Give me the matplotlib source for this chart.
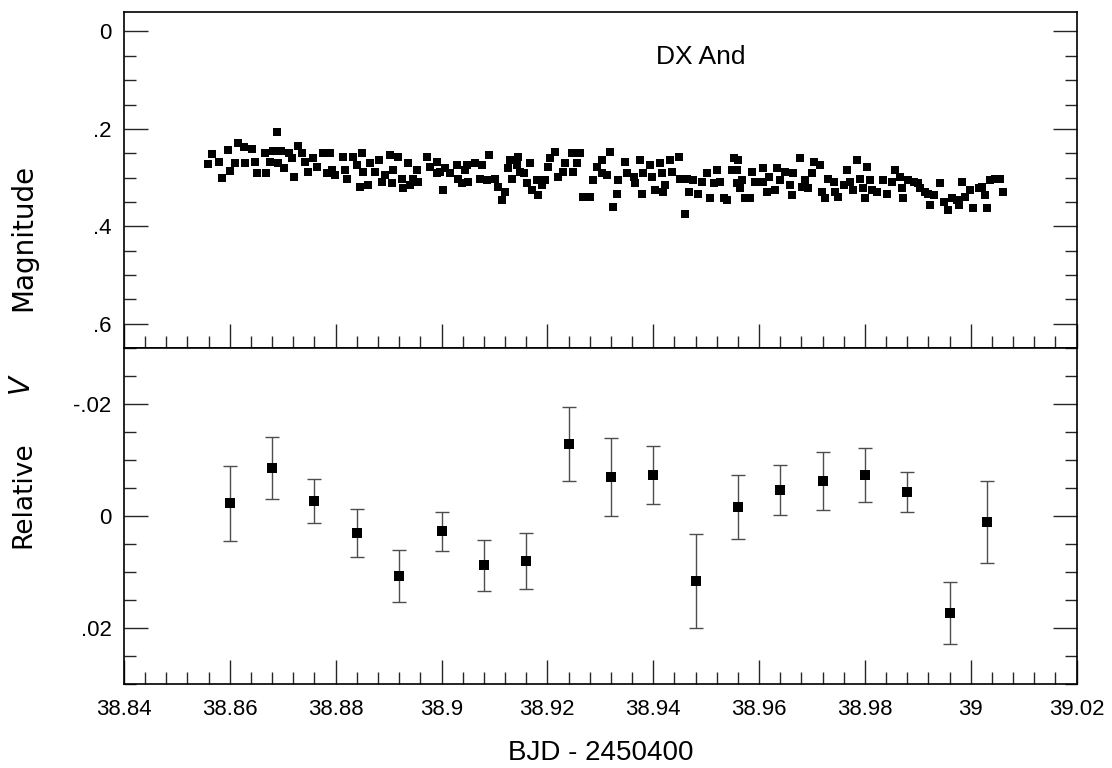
import matplotlib
matplotlib.use("Agg")
import matplotlib.pyplot as plt
from matplotlib.ticker import MultipleLocator, FuncFormatter

# Top panel: individual measurements (BJD - 2450400, magnitude)
t_all = [
    38.8558, 38.8567, 38.8580, 38.8585, 38.8597, 38.8600, 38.8616, 38.8610, 38.8627, 38.8629,
    38.8641, 38.8648, 38.8651, 38.8667, 38.8668, 38.8676, 38.8682, 38.8691, 38.8689, 38.8697,
    38.8703, 38.8711, 38.8717, 38.8722, 38.8728, 38.8736, 38.8742, 38.8748, 38.8758, 38.8764,
    38.8777, 38.8783, 38.8789, 38.8793, 38.8799, 38.8814, 38.8818, 38.8821, 38.8833, 38.8840,
    38.8849, 38.8846, 38.8852, 38.8862, 38.8865, 38.8874, 38.8881, 38.8887, 38.8893, 38.8903,
    38.8906, 38.8909, 38.8918, 38.8925, 38.8928, 38.8937, 38.8941, 38.8947, 38.8953, 38.8956,
    38.8972, 38.8978, 38.8991, 38.8991, 38.8997, 38.9003, 38.9007, 38.9016, 38.9029, 38.9032,
    38.9038, 38.9045, 38.9048, 38.9051, 38.9063, 38.9076, 38.9073, 38.9090, 38.9086, 38.9101,
    38.9107, 38.9114, 38.9120, 38.9130, 38.9126, 38.9133, 38.9142, 38.9145, 38.9148, 38.9155,
    38.9161, 38.9167, 38.9171, 38.9180, 38.9183, 38.9189, 38.9196, 38.9202, 38.9205, 38.9215,
    38.9221, 38.9230, 38.9233, 38.9246, 38.9249, 38.9256, 38.9262, 38.9268, 38.9281, 38.9287,
    38.9293, 38.9303, 38.9303, 38.9319, 38.9312, 38.9325, 38.9331, 38.9334, 38.9347, 38.9350,
    38.9363, 38.9366, 38.9375, 38.9378, 38.9381, 38.9394, 38.9397, 38.9404, 38.9413, 38.9416,
    38.9422, 38.9419, 38.9432, 38.9435, 38.9448, 38.9451, 38.9460, 38.9464, 38.9467, 38.9476,
    38.9485, 38.9492, 38.9501, 38.9508, 38.9514, 38.9520, 38.9526, 38.9533, 38.9539, 38.9549,
    38.9552, 38.9558, 38.9561, 38.9558, 38.9567, 38.9564, 38.9574, 38.9583, 38.9586, 38.9593,
    38.9608, 38.9608, 38.9615, 38.9618, 38.9630, 38.9634, 38.9640, 38.9649, 38.9659, 38.9662,
    38.9665, 38.9678, 38.9681, 38.9687, 38.9693, 38.9700, 38.9703, 38.9715, 38.9719, 38.9725,
    38.9731, 38.9741, 38.9744, 38.9750, 38.9760, 38.9766, 38.9772, 38.9778, 38.9785, 38.9791,
    38.9797, 38.9800, 38.9804, 38.9810, 38.9813, 38.9823, 38.9835, 38.9841, 38.9851, 38.9857,
    38.9867, 38.9870, 38.9873, 38.9882, 38.9892, 38.9901, 38.9904, 38.9914, 38.9920, 38.9923,
    38.9930, 38.9942, 38.9949, 38.9958, 38.9964, 38.9974, 38.9977, 38.9983, 38.9990, 38.9999,
    39.0005, 39.0015, 39.0021, 39.0027, 39.0031, 39.0037, 39.0046, 39.0056, 39.0062,
]
mag_all = [
    0.273, 0.252, 0.268, 0.300, 0.244, 0.286, 0.230, 0.270, 0.237, 0.270,
    0.242, 0.268, 0.291, 0.250, 0.291, 0.268, 0.245, 0.271, 0.206, 0.245,
    0.281, 0.250, 0.260, 0.298, 0.235, 0.250, 0.268, 0.288, 0.260, 0.278,
    0.250, 0.291, 0.250, 0.285, 0.295, 0.257, 0.285, 0.302, 0.257, 0.274,
    0.250, 0.319, 0.288, 0.316, 0.271, 0.288, 0.264, 0.309, 0.295, 0.254,
    0.312, 0.285, 0.257, 0.302, 0.322, 0.271, 0.316, 0.302, 0.285, 0.309,
    0.257, 0.278, 0.268, 0.291, 0.288, 0.326, 0.281, 0.291, 0.274, 0.302,
    0.312, 0.285, 0.274, 0.309, 0.271, 0.274, 0.302, 0.254, 0.305, 0.302,
    0.319, 0.346, 0.329, 0.264, 0.281, 0.302, 0.274, 0.257, 0.288, 0.291,
    0.312, 0.271, 0.326, 0.305, 0.336, 0.316, 0.305, 0.278, 0.260, 0.247,
    0.298, 0.288, 0.271, 0.250, 0.288, 0.271, 0.250, 0.339, 0.339, 0.305,
    0.278, 0.264, 0.291, 0.247, 0.295, 0.360, 0.333, 0.305, 0.268, 0.291,
    0.298, 0.312, 0.264, 0.333, 0.291, 0.274, 0.298, 0.326, 0.271, 0.291,
    0.316, 0.329, 0.264, 0.288, 0.257, 0.302, 0.374, 0.302, 0.329, 0.305,
    0.333, 0.309, 0.291, 0.343, 0.312, 0.285, 0.309, 0.343, 0.346, 0.285,
    0.260, 0.312, 0.264, 0.285, 0.305, 0.322, 0.343, 0.343, 0.288, 0.309,
    0.281, 0.309, 0.329, 0.298, 0.326, 0.281, 0.305, 0.288, 0.316, 0.336,
    0.291, 0.260, 0.319, 0.305, 0.322, 0.291, 0.268, 0.274, 0.329, 0.343,
    0.302, 0.309, 0.329, 0.339, 0.316, 0.285, 0.309, 0.326, 0.264, 0.302,
    0.322, 0.343, 0.278, 0.305, 0.326, 0.329, 0.305, 0.333, 0.309, 0.285,
    0.298, 0.322, 0.343, 0.305, 0.309, 0.312, 0.322, 0.329, 0.333, 0.357,
    0.336, 0.312, 0.350, 0.367, 0.343, 0.346, 0.357, 0.309, 0.339, 0.326,
    0.363, 0.322, 0.319, 0.336, 0.363, 0.305, 0.302, 0.302, 0.329,
]

# Bottom panel: binned relative V with errors
t_bin = [38.860, 38.868, 38.876, 38.884, 38.892, 38.900, 38.908, 38.916, 38.924, 38.932,
         38.940, 38.948, 38.956, 38.964, 38.972, 38.980, 38.988, 38.996, 39.003]
rel_v = [-0.0023, -0.0086, -0.0027, 0.0030, 0.0107, 0.0027, 0.0088, 0.0080, -0.0129, -0.0070,
         -0.0073, 0.0116, -0.0016, -0.0046, -0.0062, -0.0073, -0.0043, 0.0173, 0.0011]
rel_err = [0.0067, 0.0055, 0.0039, 0.0043, 0.0047, 0.0035, 0.0046, 0.0050, 0.0066, 0.0070,
           0.0052, 0.0084, 0.0057, 0.0045, 0.0052, 0.0048, 0.0036, 0.0056, 0.0073]

plt.rcParams["font.family"] = ["Liberation Sans", "DejaVu Sans"]


def strip_zero(v, pos):
    s = f"{round(v, 6):g}"
    return s.replace("0.", ".")


def style(ax, show_x):
    ax.tick_params(which="both", direction="in", top=False, right=True,
                   width=1.0, labelsize=16, color="0.15")
    ax.tick_params(which="major", length=17)
    ax.tick_params(which="minor", length=8.5)
    ax.tick_params(axis="x", pad=11, labelbottom=show_x)
    ax.tick_params(axis="y", pad=9)
    ax.xaxis.set_major_locator(MultipleLocator(0.02))
    ax.xaxis.set_minor_locator(MultipleLocator(0.004))
    ax.xaxis.set_major_formatter(FuncFormatter(lambda v, p: f"{round(v, 6):g}"))
    for sp in ax.spines.values():
        sp.set_linewidth(1.2)


fig = plt.figure(figsize=(11.12, 7.68), dpi=100)
ax1 = fig.add_axes([0.1115, 0.5469, 0.8566, 0.4375])
ax2 = fig.add_axes([0.1115, 0.1094, 0.8566, 0.4375])

ax1.plot(t_all, mag_all, "s", color="black", markersize=5.8, markeredgewidth=0)
ax1.set_xlim(38.84, 39.02)
ax1.set_ylim(0.65, -0.04)
ax1.yaxis.set_major_locator(MultipleLocator(0.2))
ax1.yaxis.set_minor_locator(MultipleLocator(0.05))
ax1.yaxis.set_major_formatter(FuncFormatter(strip_zero))
style(ax1, False)
ax1.text(0.606, 0.866, "DX And", transform=ax1.transAxes, ha="center", va="center",
         fontsize=19)

ax2.errorbar(t_bin, rel_v, yerr=rel_err, fmt="none", ecolor="0.3",
             elinewidth=1.0, capsize=4.7, capthick=1.0)
ax2.plot(t_bin, rel_v, "s", color="black", markersize=6.5, markeredgewidth=0)
ax2.set_xlim(38.84, 39.02)
ax2.set_ylim(0.03, -0.03)
ax2.yaxis.set_major_locator(MultipleLocator(0.02))
ax2.yaxis.set_minor_locator(MultipleLocator(0.005))
ax2.yaxis.set_major_formatter(FuncFormatter(strip_zero))
style(ax2, True)

fig.text(0.5398, 0.0195, "BJD - 2450400", ha="center", va="center", fontsize=20)
fig.text(0.0207, 0.6908, "Magnitude", rotation=90, ha="center", va="center",
         fontsize=20, family="DejaVu Sans")
fig.text(0.0207, 0.3555, "Relative", rotation=90, ha="center", va="center",
         fontsize=19, family="DejaVu Sans")
fig.text(0.0207, 0.4990, "$V$", rotation=90, ha="center", va="center", fontsize=20)

fig.savefig("out.png", dpi=100)
